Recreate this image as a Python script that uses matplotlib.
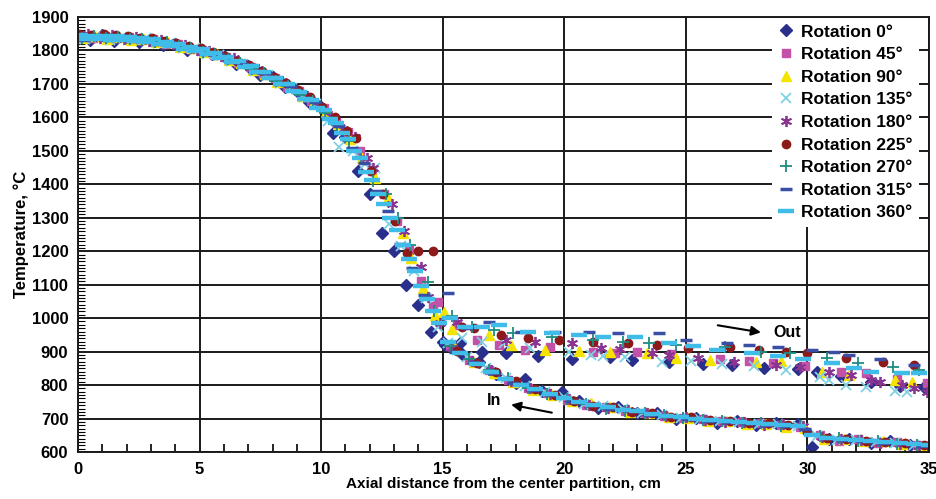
import matplotlib
matplotlib.use("Agg")
import matplotlib.pyplot as plt
from matplotlib.ticker import MultipleLocator

plt.rcParams['font.family'] = ['Liberation Sans', 'DejaVu Sans']
plt.rcParams['font.weight'] = 'bold'

labels = ['Rotation 0°', 'Rotation 45°', 'Rotation 90°', 'Rotation 135°', 'Rotation 180°',
          'Rotation 225°', 'Rotation 270°', 'Rotation 315°', 'Rotation 360°']

# each series: heat-up curve (0-15 cm), then the "out" branch, then the "in" branch
rot0_x = [0, 0.5, 1, 1.5, 2, 2.5, 3, 3.5, 4, 4.5, 5, 5.5, 6, 6.5, 7, 7.5, 8, 8.5, 9, 9.5,
          10, 10.5, 11, 11.5, 12, 12.5, 13, 13.5, 14, 14.5, 15,
          15.7, 16.6, 17.6, 18.9, 20.3, 21.9, 22.8, 24.3, 25.7, 26.9, 28.2, 29.6, 30.4, 31.4, 32.6, 33.8, 34.8,
          15.1, 15.8, 16.5, 17.2, 18.0, 18.4, 19.1, 19.9, 20.6, 21.4, 22.2, 23.0, 23.8, 24.6, 25.4, 26.3,
          27.1, 27.9, 28.7, 29.6, 30.2, 30.9, 31.7, 32.6, 33.4, 34.2, 35.0]
rot0_t = [1842, 1830, 1845, 1829, 1836, 1826, 1832, 1815, 1818, 1800, 1802, 1788, 1782, 1760, 1755, 1728,
          1722, 1690, 1680, 1646, 1630, 1553, 1540, 1440, 1370, 1255, 1200, 1100, 1040, 960, 930,
          925, 900, 895, 888, 878, 885, 876, 870, 862, 860, 852, 848, 840, 828, 810, 798, 795,
          920, 893, 868, 832, 805, 818, 782, 779, 752, 732, 735, 718, 716, 700, 703, 688,
          692, 680, 688, 683, 615, 640, 640, 628, 632, 622, 618]

rot45_x = [0.1, 0.6, 1.1, 1.6, 2.1, 2.6, 3.1, 3.6, 4.1, 4.6, 5.1, 5.6, 6.1, 6.6, 7.1, 7.6, 8.1, 8.6, 9.1, 9.6,
           10.1, 10.6, 11.1, 11.6, 12.1, 12.6, 13.1, 13.6, 14.1, 14.6, 14.8,
           15.6, 16.4, 17.3, 18.4, 19.4, 21.2, 22.1, 23.0, 24.4, 26.4, 27.6, 28.6, 29.9, 31.4, 32.4, 33.7, 34.9,
           15.3, 16.1, 16.9, 17.7, 18.5, 19.3, 20.1, 20.9, 21.7, 22.5, 23.3, 24.1, 24.9, 25.7, 26.5, 27.3,
           28.1, 28.9, 29.7, 30.5, 31.3, 32.1, 32.9, 33.7, 34.5]
rot45_t = [1846, 1838, 1844, 1836, 1840, 1830, 1833, 1820, 1818, 1804, 1802, 1786, 1781, 1762, 1752, 1730,
           1718, 1692, 1678, 1650, 1628, 1586, 1556, 1500, 1440, 1370, 1290, 1205, 1110, 1035, 1048,
           980, 935, 920, 905, 915, 900, 895, 898, 892, 878, 872, 865, 858, 840, 835, 818, 805,
           918, 875, 846, 815, 790, 776, 756, 740, 733, 722, 718, 707, 701, 698, 692, 689,
           686, 680, 675, 650, 632, 640, 627, 630, 621]

rot90_x = [0.2, 0.7, 1.2, 1.7, 2.2, 2.7, 3.2, 3.7, 4.2, 4.7, 5.2, 5.7, 6.2, 6.7, 7.2, 7.7, 8.2, 8.7, 9.2, 9.7,
           10.2, 10.7, 11.2, 11.7, 12.2, 12.75, 13.35, 13.7, 14.2, 14.7, 15.05,
           15.4, 16.9, 17.8, 19.2, 20.6, 21.9, 23.4, 24.6, 26.0, 27.9, 28.9, 30.6, 31.7, 33.6, 34.3,
           15.5, 16.3, 17.1, 17.9, 18.7, 19.5, 20.3, 21.1, 21.9, 22.7, 23.5, 24.3, 25.1, 25.9, 26.7, 27.5,
           28.3, 29.1, 29.9, 30.7, 31.5, 32.3, 33.1, 33.9, 34.7]
rot90_t = [1836, 1844, 1835, 1841, 1832, 1834, 1824, 1824, 1810, 1808, 1794, 1788, 1771, 1762, 1741, 1730,
           1705, 1694, 1663, 1646, 1615, 1580, 1535, 1480, 1420, 1359, 1255, 1180, 1090, 1010, 1019,
           968, 950, 920, 905, 902, 900, 895, 880, 875, 869, 872, 838, 830, 815, 810,
           910, 870, 835, 810, 785, 770, 752, 745, 733, 720, 717, 705, 702, 693, 692, 684,
           683, 676, 672, 638, 640, 632, 634, 623, 615]

rot135_x = [0.3, 0.8, 1.3, 1.8, 2.3, 2.8, 3.3, 3.8, 4.3, 4.8, 5.3, 5.8, 6.3, 6.8, 7.3, 7.8, 8.3, 8.8, 9.3, 9.8,
            10.3, 10.75, 11.3, 11.8, 12.2, 12.8, 13.3, 13.8, 14.3, 14.8,
            15.8, 16.6, 17.5, 18.6, 20.2, 21.1, 21.6, 22.5, 24.0, 25.2, 26.5, 27.8, 29.1, 30.5, 30.9, 31.6, 32.4,
            33.6, 34.1,
            15.2, 16.0, 16.8, 17.6, 18.4, 19.2, 20.0, 20.8, 21.6, 22.4, 23.2, 24.0, 24.8, 25.6, 26.4, 27.2,
            28.0, 28.8, 29.6, 30.4, 31.2, 32.0, 32.8, 33.6, 34.4]
rot135_t = [1834, 1842, 1832, 1840, 1830, 1836, 1822, 1821, 1807, 1806, 1790, 1786, 1768, 1760, 1738, 1727,
            1702, 1688, 1660, 1640, 1590, 1511, 1500, 1460, 1449, 1280, 1215, 1140, 1060, 975,
            940, 928, 926, 912, 900, 890, 888, 884, 869, 872, 862, 858, 845, 824, 815, 800, 794,
            782, 779,
            925, 884, 850, 822, 797, 780, 764, 744, 736, 728, 716, 710, 703, 700, 694, 690,
            684, 683, 679, 648, 637, 636, 630, 627, 620]

rot180_x = [0.4, 0.9, 1.4, 1.9, 2.4, 2.9, 3.4, 3.9, 4.4, 4.9, 5.4, 5.9, 6.4, 6.9, 7.4, 7.9, 8.4, 8.9, 9.4, 9.9,
            10.4, 10.9, 11.4, 11.9, 12.15, 12.9, 13.4, 14.1, 14.4, 14.9,
            15.6, 17.6, 18.8, 20.3, 21.5, 22.3, 23.6, 24.3, 25.5, 27.0, 28.7, 29.7, 30.9, 31.8, 32.6, 33.0,
            33.9, 34.4, 34.9,
            15.4, 16.2, 17.0, 17.8, 18.6, 19.4, 20.2, 21.0, 21.8, 22.6, 23.4, 24.2, 25.0, 25.8, 26.6, 27.4,
            28.2, 29.0, 29.8, 30.6, 31.4, 32.2, 33.0, 33.8, 34.6]
rot180_t = [1848, 1836, 1846, 1833, 1840, 1828, 1832, 1818, 1816, 1800, 1798, 1782, 1776, 1756, 1746, 1724,
            1708, 1684, 1664, 1634, 1605, 1566, 1540, 1480, 1449, 1340, 1260, 1153, 1062, 985,
            988, 935, 929, 926, 911, 908, 896, 890, 880, 869, 860, 854, 839, 830, 815, 810,
            800, 791, 779,
            912, 872, 844, 812, 790, 773, 757, 741, 731, 726, 716, 708, 704, 697, 690, 689,
            682, 683, 678, 645, 638, 635, 627, 625, 619]

rot225_x = [0.05, 0.55, 1.05, 1.55, 2.05, 2.55, 3.05, 3.55, 4.05, 4.55, 5.05, 5.55, 6.05, 6.55, 7.05, 7.55,
            8.05, 8.55, 9.05, 9.55, 10.05, 10.55, 11.05, 11.45, 12.05, 12.55, 13.05, 13.55, 14.0, 14.6,
            15.8, 16.3, 17.4, 18.5, 19.8, 21.2, 22.6, 23.8, 25.1, 26.8, 28.0, 29.1, 30.0, 31.6, 33.1, 34.4,
            15.6, 16.4, 17.2, 18.0, 18.8, 19.6, 20.4, 21.2, 22.0, 22.8, 23.6, 24.4, 25.2, 26.0, 26.8, 27.6,
            28.4, 29.2, 30.0, 30.8, 31.6, 32.4, 33.2, 34.0, 34.8]
rot225_t = [1850, 1846, 1848, 1845, 1843, 1838, 1836, 1828, 1822, 1812, 1806, 1794, 1784, 1770, 1756, 1740,
            1722, 1702, 1682, 1660, 1632, 1600, 1560, 1538, 1440, 1370, 1290, 1195, 1200, 1200,
            975, 970, 950, 940, 935, 929, 925, 920, 912, 914, 905, 900, 896, 880, 869, 860,
            902, 866, 838, 812, 788, 770, 752, 738, 733, 720, 718, 706, 704, 695, 693, 686,
            686, 680, 660, 642, 640, 634, 630, 628, 622]

rot270_x = [0.15, 0.65, 1.15, 1.65, 2.15, 2.65, 3.15, 3.65, 4.15, 4.65, 5.15, 5.65, 6.15, 6.65, 7.15, 7.65,
            8.15, 8.65, 9.15, 9.65, 10.15, 10.65, 11.15, 11.65, 12.15, 12.65, 13.15, 13.65, 14.4, 14.65,
            15.4, 16.2, 17.1, 17.9, 19.5, 21.2, 22.4, 23.5, 24.6, 26.6, 28.1, 29.3, 30.8, 32.1, 33.5, 34.6,
            15.3, 16.1, 16.9, 17.7, 18.5, 19.3, 20.1, 20.9, 21.7, 22.5, 23.3, 24.1, 24.9, 25.7, 26.5, 27.3,
            28.1, 28.9, 29.7, 30.5, 31.3, 32.1, 32.9, 33.7, 34.5]
rot270_t = [1838, 1844, 1836, 1840, 1833, 1835, 1825, 1824, 1812, 1808, 1795, 1789, 1773, 1764, 1744, 1732,
            1709, 1694, 1668, 1648, 1612, 1578, 1530, 1478, 1410, 1370, 1300, 1220, 1108, 1020,
            1005, 975, 965, 955, 944, 935, 930, 926, 920, 914, 900, 895, 880, 866, 854, 845,
            916, 878, 846, 820, 792, 774, 758, 744, 730, 724, 717, 712, 702, 697, 693, 687,
            686, 679, 677, 648, 641, 633, 632, 624, 622]

rot315_x = [0.25, 0.75, 1.25, 1.75, 2.25, 2.75, 3.25, 3.75, 4.25, 4.75, 5.25, 5.75, 6.25, 6.75, 7.25, 7.75,
            8.25, 8.75, 9.25, 9.75, 10.25, 10.75, 11.25, 11.75, 12.25, 12.75, 13.25, 13.75, 14.25, 15.2,
            16.0, 16.9, 18.2, 19.6, 21.0, 22.2, 23.9, 25.0, 26.7, 27.6, 28.8, 30.2, 31.1, 31.7, 33.0, 34.4,
            15.5, 16.3, 17.1, 17.9, 18.7, 19.5, 20.3, 21.1, 21.9, 22.7, 23.5, 24.3, 25.1, 25.9, 26.7, 27.5,
            28.3, 29.1, 29.9, 30.7, 31.5, 32.3, 33.1, 33.9, 34.7]
rot315_t = [1830, 1846, 1832, 1843, 1828, 1836, 1820, 1824, 1806, 1809, 1788, 1790, 1766, 1764, 1737, 1732,
            1700, 1694, 1658, 1646, 1598, 1575, 1508, 1465, 1380, 1320, 1222, 1150, 1070, 1075,
            970, 988, 960, 958, 958, 955, 955, 935, 926, 920, 914, 905, 900, 890, 878, 860,
            900, 868, 836, 806, 785, 770, 752, 740, 730, 725, 712, 708, 700, 694, 690, 688,
            682, 678, 670, 643, 636, 634, 628, 626, 618]

rot360_x = [0.1, 0.35, 0.6, 0.85, 1.1, 1.35, 1.6, 1.85, 2.1, 2.35, 2.6, 2.85, 3.1, 3.35, 3.6, 3.85,
            4.1, 4.35, 4.6, 4.85, 5.1, 5.35, 5.6, 5.85, 6.1, 6.35, 6.6, 6.85, 7.1, 7.35, 7.6, 7.85,
            8.1, 8.35, 8.6, 8.85, 9.1, 9.35, 9.6, 9.85, 10.1, 10.35, 10.6, 10.85, 11.1, 11.35, 11.6, 11.85,
            12.1, 12.35, 12.6, 12.85, 13.1, 13.35, 13.6, 13.85, 14.1, 14.35, 14.6, 14.85,
            15.3, 15.9, 16.6, 17.3, 18.5, 19.5, 20.6, 21.6, 22.9, 24.3, 25.3, 26.3, 27.7, 28.8, 29.8, 31.0,
            31.9, 32.6, 33.9, 34.6,
            15.2, 15.7, 16.4, 17.0, 17.6, 18.2, 18.8, 19.4, 20.0, 20.6, 21.2, 21.8, 22.4, 23.0, 23.6, 24.2,
            24.8, 25.4, 26.0, 26.6, 27.2, 27.8, 28.4, 29.0, 29.6, 30.2, 30.8, 31.4, 32.0, 32.6, 33.2, 33.8,
            34.4, 35.0]
rot360_t = [1846, 1834, 1844, 1835, 1843, 1832, 1842, 1831, 1840, 1828, 1836, 1826, 1833, 1820, 1826, 1814,
            1819, 1805, 1811, 1797, 1803, 1788, 1793, 1777, 1781, 1765, 1768, 1751, 1753, 1735, 1736, 1717,
            1718, 1699, 1699, 1678, 1677, 1655, 1652, 1628, 1622, 1594, 1582, 1552, 1535, 1500, 1478, 1438,
            1414, 1370, 1340, 1300, 1262, 1220, 1178, 1140, 1095, 1058, 1020, 985,
            1000, 975, 973, 980, 960, 955, 950, 944, 944, 926, 918, 905, 896, 888, 878, 866,
            851, 839, 836, 836,
            928, 895, 862, 840, 818, 801, 788, 772, 762, 749, 740, 733, 726, 722, 714, 709,
            704, 700, 697, 692, 690, 686, 684, 682, 678, 652, 643, 638, 636, 632, 629, 627,
            624, 620]

series_x = [rot0_x, rot45_x, rot90_x, rot135_x, rot180_x, rot225_x, rot270_x, rot315_x, rot360_x]
series_t = [rot0_t, rot45_t, rot90_t, rot135_t, rot180_t, rot225_t, rot270_t, rot315_t, rot360_t]

colors = ['#2b2f8c', '#c451a8', '#f4e400', '#7fd0e2', '#8a3592', '#8c1a1a', '#1e8c80', '#3b4ea6', '#3fbde8']
markers = ['D', 's', '^', 'x', (6, 2, 0), 'o', '+', '_', '_']
sizes = [6, 6, 7, 7.5, 8, 6, 8, 8, 12]
widths = [1, 1, 1, 1.3, 1.3, 1, 1.3, 2.5, 3.2]

fig = plt.figure(figsize=(9.36, 4.99), dpi=100)
ax = fig.add_axes([78 / 936, 47 / 499, 851 / 936, 435 / 499])

for xs, ts, c, m, s, w, lab in zip(series_x, series_t, colors, markers, sizes, widths, labels):
    ax.plot(xs, ts, linestyle='none', marker=m, color=c, markersize=s,
            markeredgewidth=w, label=lab)

ax.set_xlim(0, 35)
ax.set_ylim(600, 1900)
ax.xaxis.set_major_locator(MultipleLocator(5))
ax.xaxis.set_minor_locator(MultipleLocator(1))
ax.yaxis.set_major_locator(MultipleLocator(100))
ax.yaxis.set_minor_locator(MultipleLocator(10))
ax.grid(True, which='major', color='#1a1a1a', linewidth=1.4)
ax.set_axisbelow(True)
ax.tick_params(axis='both', which='major', labelsize=12, direction='in', length=0)
ax.tick_params(axis='x', which='major', pad=7)
ax.tick_params(axis='y', which='major', pad=7)
ax.tick_params(axis='x', which='minor', direction='in', length=6, width=1.2, top=False)
ax.tick_params(axis='y', which='minor', direction='in', length=5, width=0.8, right=False)
for sp in ax.spines.values():
    sp.set_linewidth(1.4)
    sp.set_color('#1a1a1a')
for lab in ax.get_xticklabels() + ax.get_yticklabels():
    lab.set_fontweight('bold')

ax.set_xlabel('Axial distance from the center partition, cm', fontsize=11, fontweight='bold', labelpad=0)
ax.set_ylabel('Temperature, °C', fontsize=12, fontweight='bold', labelpad=2)

ax.annotate('', xy=(28.2, 956), xytext=(26.2, 980),
            arrowprops=dict(arrowstyle='-|>', color='black', lw=1.5, mutation_scale=14))
ax.text(28.6, 956, 'Out', fontsize=11.5, fontweight='bold', va='center', ha='left')
ax.annotate('', xy=(17.7, 743), xytext=(19.6, 716),
            arrowprops=dict(arrowstyle='-|>', color='black', lw=1.5, mutation_scale=14))
ax.text(17.1, 755, 'In', fontsize=11.5, fontweight='bold', va='center', ha='center')

leg = ax.legend(loc='upper right', bbox_to_anchor=(0.988, 0.997), borderaxespad=0,
                frameon=True, fancybox=False, edgecolor='none', facecolor='white', framealpha=1,
                handlelength=0.9, handletextpad=0.45, labelspacing=0.43, borderpad=0.35,
                prop={'size': 12.5, 'weight': 'bold'})

fig.savefig('out.png', dpi=100)
